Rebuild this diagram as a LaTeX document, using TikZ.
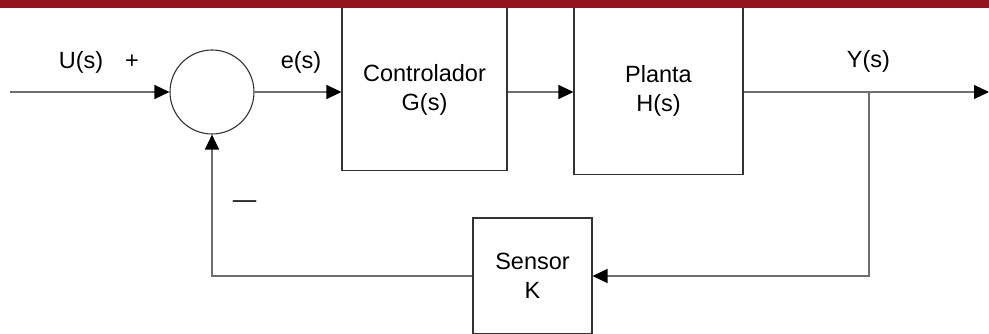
\documentclass[tikz,border=0pt]{standalone}
\usepackage{fontspec}
\setmainfont{Liberation Sans}
\usetikzlibrary{arrows.meta,positioning}
\definecolor{barred}{HTML}{93131E}
\definecolor{wire}{HTML}{6E6E6E}
\tikzset{
  block/.style = {draw = black!80, line width = 1.1pt, inner sep = 0pt, align = center},
  sig/.style = {draw = wire, line width = 1.2pt, -{Triangle[color = black, length = 15pt, width = 14pt]}},
}
\begin{document}
\begin{tikzpicture}[x = 1pt, y = -1pt, every node/.style = {font = \fontsize{23.5}{29}\selectfont}]
\useasboundingbox (0,0) rectangle (989,334);
\node[draw = black!80, circle, minimum size = 84pt, inner sep = 0pt, line width = 1.1pt] (sum) at (212,92) {};
\coordinate (in) at (10,92);
\node[block, minimum width = 165pt, minimum height = 180pt, anchor = south] (ctrl) at (424.5,171) {};
\node[align = center] (ctrltxt) at (424.5,90) {Controlador\\G(s)};
\node[block, minimum width = 169pt, minimum height = 185pt, anchor = south] (plant) at (658.5,175) {};
\node[align = center] (planttxt) at (658.5,91) {Planta\\H(s)};
\node[block, minimum width = 119pt, minimum height = 116pt] (sens) at (532.5,276) {Sensor\\K};
\coordinate (branch) at (869,92);
\coordinate (out) at (989,92);
\draw[sig] (in) -- (sum);
\draw[sig] (sum) -- (sum -| ctrl.west);
\draw[sig] (sum -| ctrl.east) -- (sum -| plant.west);
\draw[sig] (sum -| plant.east) -- (out);
\draw[sig] (branch) |- (sens);
\draw[sig] (sens) -| (sum);
\node[anchor = base] (lu) at (81,69) {U(s)};
\node[anchor = base] (lplus) at (132,69) {+};
\node[anchor = base] (le) at (301,69) {e(s)};
\node[anchor = base] (ly) at (868.5,68) {Y(s)};
\node (lminus) at (244.5,204) {—};
\fill[barred] (0,0) rectangle (989,8);
\end{tikzpicture}
\end{document}
